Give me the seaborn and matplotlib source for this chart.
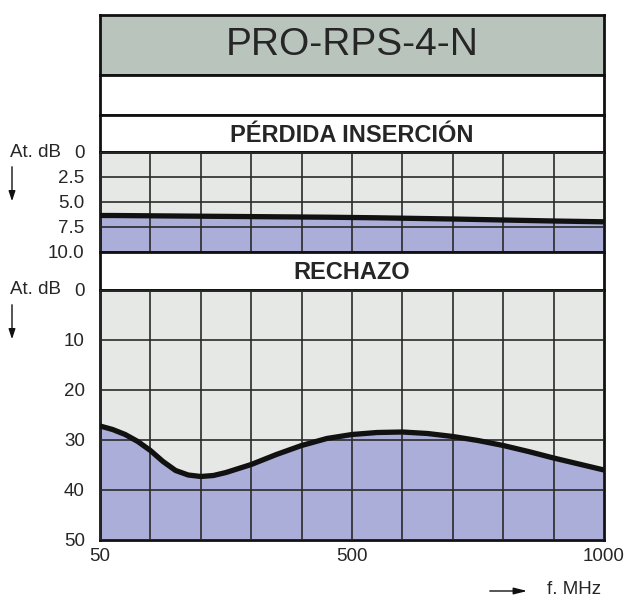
"""
PRO-RPS-4-N attenuation chart
"""

import matplotlib
matplotlib.use("Agg")
import matplotlib.pyplot as plt
import seaborn as sns

sns.set_style("white")
plt.rcParams["font.family"] = ["Liberation Sans", "DejaVu Sans"]

# grid positions along the frequency axis (10 columns)
pos = [0, 0.25, 0.5, 0.75, 1, 1.25, 1.5, 1.75, 2, 2.25, 2.5, 3, 3.5, 4, 4.5, 5,
       5.5, 6, 6.5, 7, 7.5, 8, 8.5, 9, 9.5, 10]

insertion_db = [6.35, 6.35, 6.36, 6.37, 6.38, 6.39, 6.4, 6.41, 6.42, 6.43, 6.44,
                6.46, 6.48, 6.5, 6.52, 6.55, 6.58, 6.62, 6.66, 6.7, 6.75, 6.8,
                6.85, 6.9, 6.94, 6.98]

rejection_db = [27.2, 27.9, 28.9, 30.3, 32.1, 34.3, 36.1, 37.0, 37.3, 37.1, 36.5,
                34.9, 32.9, 31.1, 29.7, 28.9, 28.5, 28.4, 28.7, 29.3, 30.1, 31.1,
                32.3, 33.6, 34.8, 36.0]

ins_ticks = [0, 2.5, 5.0, 7.5, 10.0]
ins_labels = ["0", "2.5", "5.0", "7.5", "10.0"]
rej_ticks = [0, 10, 20, 30, 40, 50]
rej_labels = ["0", "10", "20", "30", "40", "50"]
freq_ticks = [0, 5, 10]
freq_labels = ["50", "500", "1000"]

title = "PRO-RPS-4-N"

W, H = 628, 598
fill_col = "#abaed8"
bg_col = "#e6e8e5"
head_col = "#b8c4bc"
grid_col = "#2a2a2a"


def box(top, bottom, color="white"):
    ax = fig.add_axes([100 / W, 1 - bottom / H, 504 / W, (bottom - top) / H])
    ax.set_facecolor(color)
    ax.set_xticks([])
    ax.set_yticks([])
    for s in ax.spines.values():
        s.set_linewidth(2)
        s.set_color("#111111")
    return ax


def style_plot(ax, ymax, yticks, ylabels):
    ax.set_xlim(0, 10)
    ax.set_ylim(ymax, 0)
    ax.set_xticks(range(11))
    ax.set_xticklabels([])
    ax.set_yticks(yticks)
    ax.set_yticklabels(ylabels, fontsize=13.5)
    ax.tick_params(length=0, pad=11)
    ax.grid(True, color=grid_col, linewidth=1.2)
    ax.set_axisbelow(False)
    ax.set_xlabel("")
    ax.set_ylabel("")


fig = plt.figure(figsize=(W / 100, H / 100), dpi=100)

ax = box(15, 75, head_col)
ax.text(0.5, 0.5, title, fontsize=28, ha="center", va="center", transform=ax.transAxes)

box(75, 115)

ax = box(115, 152)
ax.text(0.5, 0.45, "PÉRDIDA INSERCIÓN", fontsize=17, fontweight="bold",
        ha="center", va="center", transform=ax.transAxes)

ax_ins = box(152, 252, bg_col)
ax_ins.fill_between(pos, insertion_db, 10, color=fill_col, zorder=1)
sns.lineplot(x=pos, y=insertion_db, ax=ax_ins, color="#111111", linewidth=3.8,
             zorder=3, solid_joinstyle="round")
style_plot(ax_ins, 10, ins_ticks, ins_labels)

ax = box(252, 290)
ax.text(0.5, 0.45, "RECHAZO", fontsize=17, fontweight="bold",
        ha="center", va="center", transform=ax.transAxes)

ax_rej = box(290, 540, bg_col)
ax_rej.fill_between(pos, rejection_db, 50, color=fill_col, zorder=1)
sns.lineplot(x=pos, y=rejection_db, ax=ax_rej, color="#111111", linewidth=3.8,
             zorder=3, solid_joinstyle="round")
style_plot(ax_rej, 50, rej_ticks, rej_labels)
ax_rej.xaxis.remove_overlapping_locs = False
ax_rej.set_xticks(freq_ticks, minor=True)
ax_rej.set_xticklabels(freq_labels, minor=True, fontsize=13.5)
ax_rej.tick_params(which="minor", length=0, pad=6)

# side labels and arrows
for y0 in (152, 290):
    fig.text(10 / W, 1 - y0 / H, "At. dB", fontsize=13.5, ha="left", va="center")
    fig.add_artist(matplotlib.patches.FancyArrowPatch(
        (12 / W, 1 - (y0 + 12) / H), (12 / W, 1 - (y0 + 52) / H),
        transform=fig.transFigure, arrowstyle="-|>,head_length=6,head_width=2",
        color="#111111", linewidth=1))

fig.add_artist(matplotlib.patches.FancyArrowPatch(
    (487 / W, 1 - 591 / H), (530 / W, 1 - 591 / H),
    transform=fig.transFigure, arrowstyle="-|>,head_length=8,head_width=2",
    color="#111111", linewidth=1))
fig.text(547 / W, 1 - 590 / H, "f. MHz", fontsize=13.5, ha="left", va="center")

fig.savefig("out.png", dpi=100)
